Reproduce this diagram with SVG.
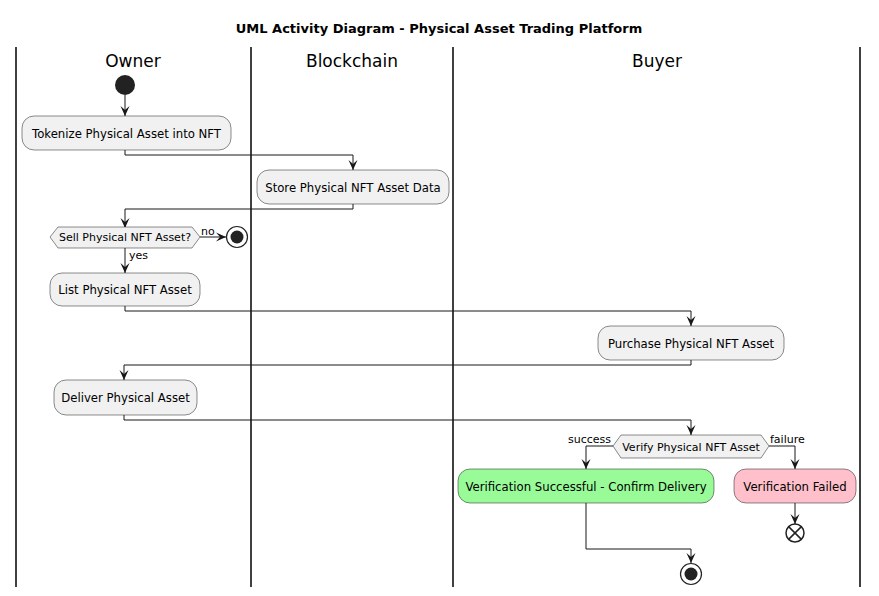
<svg xmlns="http://www.w3.org/2000/svg" width="879" height="596" viewBox="0 0 879 596">
<defs>
<marker id="arr" viewBox="0 0 10 10" refX="10" refY="5" markerWidth="10" markerHeight="10" markerUnits="userSpaceOnUse" orient="auto">
<path d="M0,0.5 L10,5 L0,9.5 L4,5 Z" fill="#181818"/>
</marker>
</defs>
<style>
.t{font-family:"DejaVu Sans",Verdana,sans-serif;font-size:11.7px;fill:#000;text-anchor:middle}
.s{font-family:"DejaVu Sans",Verdana,sans-serif;font-size:11px;fill:#000}
.lane{font-family:"DejaVu Sans",Verdana,sans-serif;font-size:17px;fill:#000;text-anchor:middle}
.box{fill:#F1F1F1;stroke:#181818;stroke-width:0.5}
.c{fill:none;stroke:#181818;stroke-width:1}
.sl{stroke:#000;stroke-width:1.5}
</style>
<rect width="879" height="596" fill="#fff"/>
<text x="439" y="33" font-family="DejaVu Sans,Verdana,sans-serif" font-size="13" font-weight="bold" text-anchor="middle">UML Activity Diagram - Physical Asset Trading Platform</text>
<g id="lanes">
<line class="sl" x1="16" y1="47" x2="16" y2="587"/>
<line class="sl" x1="251" y1="47" x2="251" y2="587"/>
<line class="sl" x1="453" y1="47" x2="453" y2="587"/>
<line class="sl" x1="860" y1="47" x2="860" y2="587"/>
<text class="lane" x="133" y="67">Owner</text>
<text class="lane" x="352" y="67">Blockchain</text>
<text class="lane" x="657" y="67">Buyer</text>
</g>
<g id="connectors">
<line class="c" x1="125" y1="95" x2="125" y2="116" marker-end="url(#arr)"/>
<polyline class="c" points="125,150 125,155 353,155 353,170" marker-end="url(#arr)"/>
<polyline class="c" points="353,204 353,209 125,209 125,228" marker-end="url(#arr)"/>
<line class="c" x1="200" y1="237" x2="226" y2="237" marker-end="url(#arr)"/>
<text class="s" x="201" y="235">no</text>
<line class="c" x1="125" y1="248" x2="125" y2="273" marker-end="url(#arr)"/>
<text class="s" x="129" y="259">yes</text>
<polyline class="c" points="125,306 125,311 691,311 691,326" marker-end="url(#arr)"/>
<polyline class="c" points="691,360 691,365 124,365 124,380" marker-end="url(#arr)"/>
<polyline class="c" points="124,415 124,420 691,420 691,435" marker-end="url(#arr)"/>
<polyline class="c" points="613,446 586,446 586,469" marker-end="url(#arr)"/>
<text class="s" x="611" y="443" text-anchor="end">success</text>
<polyline class="c" points="769,446 795,446 795,469" marker-end="url(#arr)"/>
<text class="s" x="770" y="443">failure</text>
<line class="c" x1="795" y1="503" x2="795" y2="524" marker-end="url(#arr)"/>
<polyline class="c" points="586,503 586,549 691,549 691,563" marker-end="url(#arr)"/>
</g>
<g id="start"><circle cx="125" cy="85" r="10" fill="#222"/></g>
<g id="tokenize"><rect class="box" x="22" y="116" width="209" height="34" rx="12"/><text class="t" x="126.5" y="137.5">Tokenize Physical Asset into NFT</text></g>
<g id="store"><rect class="box" x="257" y="170" width="192" height="34" rx="12"/><text class="t" x="353" y="191.5">Store Physical NFT Asset Data</text></g>
<g id="sell"><polygon class="box" points="50,237 58,227 192,227 200,237 192,248 58,248"/><text class="s" x="125" y="241" text-anchor="middle">Sell Physical NFT Asset?</text></g>
<g id="stop1"><circle cx="237" cy="237" r="10.5" fill="#fff" stroke="#222" stroke-width="1.2"/><circle cx="237" cy="237" r="6.5" fill="#222"/></g>
<g id="list"><rect class="box" x="50" y="273" width="150" height="33" rx="12"/><text class="t" x="125" y="294">List Physical NFT Asset</text></g>
<g id="purchase"><rect class="box" x="598" y="326" width="186" height="34" rx="12"/><text class="t" x="691" y="347.5">Purchase Physical NFT Asset</text></g>
<g id="deliver"><rect class="box" x="54" y="380" width="143" height="35" rx="12"/><text class="t" x="125.5" y="402">Deliver Physical Asset</text></g>
<g id="verify"><polygon class="box" points="613,446 621,435 761,435 769,446 761,458 621,458"/><text class="s" x="691" y="450.5" text-anchor="middle">Verify Physical NFT Asset</text></g>
<g id="success"><rect x="458" y="469" width="256" height="34" rx="12" fill="#98FB98" stroke="#181818" stroke-width="0.5"/><text class="t" x="586" y="491">Verification Successful - Confirm Delivery</text></g>
<g id="failed"><rect x="734" y="469" width="122" height="34" rx="12" fill="#FFC0CB" stroke="#181818" stroke-width="0.5"/><text class="t" x="795" y="491">Verification Failed</text></g>
<g id="endflow"><circle cx="795" cy="533" r="9" fill="#fff" stroke="#222" stroke-width="1.5"/><path d="M788.6,526.6 L801.4,539.4 M801.4,526.6 L788.6,539.4" stroke="#222" stroke-width="1.5"/></g>
<g id="stop2"><circle cx="691" cy="574" r="10.5" fill="#fff" stroke="#222" stroke-width="1.2"/><circle cx="691" cy="574" r="6.5" fill="#222"/></g>
</svg>
